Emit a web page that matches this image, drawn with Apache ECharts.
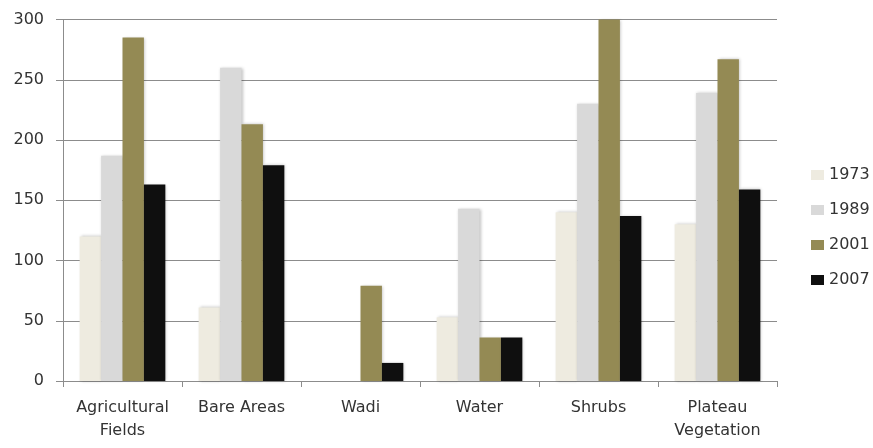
<!DOCTYPE html>
<html>
<head>
<meta charset="utf-8">
<script src="https://cdn.jsdelivr.net/npm/echarts@6/dist/echarts.min.js"></script>
<style>
  html, body { margin: 0; padding: 0; background: #fff; }
  #chart { width: 873px; height: 448px; }
</style>
</head>
<body>
<div id="chart"></div>
<script>
var categories = ["Agricultural\nFields", "Bare Areas", "Wadi", "Water", "Shrubs", "Plateau\nVegetation"];
var years = ["1973", "1989", "2001", "2007"];
var values1973 = [120, 61, 0, 53, 140, 130];
var values1989 = [187, 260, 0, 143, 230, 239];
var values2001 = [285, 213, 79, 36, 300, 267];
var values2007 = [163, 179, 15, 36, 137, 159];
var colors = ["#eeebe0", "#d9d9d9", "#948a54", "#0f0f0f"];

var chart = echarts.init(document.getElementById("chart"));
var textColor = "#333333";
var fontFamily = "'DejaVu Sans', sans-serif";

function makeSeries(name, data, color) {
  return {
    name: name,
    type: "bar",
    data: data,
    barGap: "0%",
    barCategoryGap: "28%",
    itemStyle: {
      color: color,
      shadowBlur: 3,
      shadowColor: "rgba(0,0,0,0.25)",
      shadowOffsetX: 1,
      shadowOffsetY: 0
    }
  };
}

var option = {
  animation: false,
  color: colors,
  grid: {
    left: 63,
    right: 96,
    top: 19.5,
    bottom: 67,
    containLabel: false
  },
  legend: {
    orient: "vertical",
    left: 811,
    top: 167,
    padding: 0,
    icon: "rect",
    itemWidth: 13,
    itemHeight: 10,
    itemGap: 19,
    textStyle: { color: textColor, fontSize: 16, fontFamily: fontFamily },
    data: years
  },
  xAxis: {
    type: "category",
    data: categories,
    axisLine: { show: true, lineStyle: { color: "#8c8c8c", width: 1 } },
    axisTick: { show: true, length: 6, lineStyle: { color: "#8c8c8c" } },
    axisLabel: {
      color: textColor,
      fontSize: 16,
      fontFamily: fontFamily,
      margin: 15,
      lineHeight: 23,
      interval: 0
    }
  },
  yAxis: {
    type: "value",
    min: 0,
    max: 300,
    interval: 50,
    axisLine: { show: true, lineStyle: { color: "#8c8c8c", width: 1 } },
    axisTick: { show: true, length: 7, lineStyle: { color: "#8c8c8c" } },
    axisLabel: {
      color: textColor,
      fontSize: 16,
      fontFamily: fontFamily,
      margin: 19
    },
    splitLine: { show: true, lineStyle: { color: "#8c8c8c", width: 1 } }
  },
  series: [
    makeSeries(years[0], values1973, colors[0]),
    makeSeries(years[1], values1989, colors[1]),
    makeSeries(years[2], values2001, colors[2]),
    makeSeries(years[3], values2007, colors[3])
  ]
};

chart.setOption(option);
</script>
</body>
</html>
